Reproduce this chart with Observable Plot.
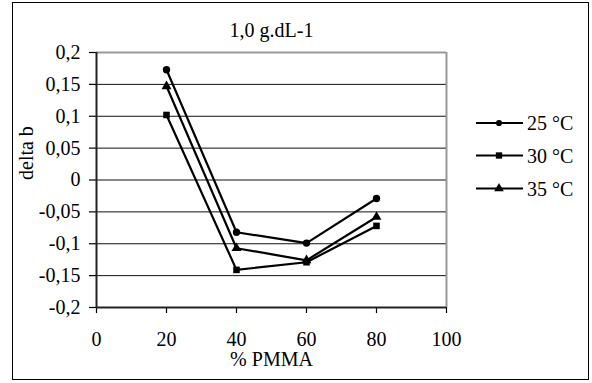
<!DOCTYPE html>
<html><head><meta charset="utf-8">
<script src="https://cdn.jsdelivr.net/npm/d3@7"></script>
<script src="https://cdn.jsdelivr.net/npm/@observablehq/plot@0.6"></script>
<style>
body{margin:0;background:#fff;}
#wrap{position:relative;width:592px;height:383px;}
#border{position:absolute;left:12px;top:2px;width:577px;height:378px;border:1.5px solid #000;box-sizing:border-box;pointer-events:none;}
svg text{font-family:'Liberation Serif','Times New Roman',serif !important;}
</style>
</head><body>
<div id="wrap"><div id="border"></div></div>
<script>
const pmma = [20, 40, 60, 80];
const series = ["25 °C", "30 °C", "35 °C"];
const v25 = [0.173, -0.082, -0.099, -0.029];
const v30 = [0.102, -0.141, -0.129, -0.072];
const v35 = [0.147, -0.107, -0.126, -0.058];
const yTicks = [-0.2, -0.15, -0.1, -0.05, 0, 0.05, 0.1, 0.15, 0.2];
const xTicks = [0, 20, 40, 60, 80, 100];
const title = "1,0 g.dL-1";
const yLabel = "delta b";
const xLabel = "% PMMA";
const symbols = ["circle", "square", "triangle"];

const vals = [v25, v30, v35];
const data = [];
series.forEach((s, i) => pmma.forEach((x, j) => data.push({s, x, y: vals[i][j]})));
const fmt = d => String(d).replace(".", ",");
const FONT = "'Liberation Serif', 'Times New Roman', serif";

const W = 592, H = 383, ml = 96, mr = 146, mt = 52, mb = 76;
const chart = Plot.plot({
  width: W, height: H,
  marginLeft: ml, marginRight: mr, marginTop: mt, marginBottom: mb,
  style: {fontFamily: FONT, fontSize: "20px", color: "#000", background: "transparent"},
  x: {domain: [0, 100], ticks: xTicks, tickFormat: fmt, label: null},
  y: {domain: [-0.2, 0.2], ticks: yTicks, tickFormat: fmt, label: null},
  symbol: {domain: series, range: symbols},
  marks: [
    Plot.ruleY(yTicks.filter(t => t > -0.2 && t < 0.2), {stroke: "#111", strokeWidth: 1}),
    Plot.ruleY([0.2], {stroke: "#999", strokeWidth: 2}),
    Plot.ruleX([100], {stroke: "#999", strokeWidth: 2}),
    Plot.axisY({ticks: yTicks, tickFormat: fmt, tickSize: 7, tickPadding: 9, fontSize: 20, label: null, strokeWidth: 1.2}),
    Plot.axisX({ticks: xTicks, tickFormat: fmt, tickSize: 6, tickPadding: 18, fontSize: 20, label: null, strokeWidth: 1.2}),
    Plot.ruleX([0], {stroke: "#222", strokeWidth: 2}),
    Plot.ruleY([-0.2], {stroke: "#222", strokeWidth: 2}),
    Plot.line(data, {x: "x", y: "y", z: "s", stroke: "#000", strokeWidth: 2.2}),
    Plot.dot(data, {x: "x", y: "y", symbol: "s", fill: "#000", stroke: "none", r: 3.7}),
    Plot.text([title], {frameAnchor: "top", lineAnchor: "middle", dy: -22, text: d => d, fontSize: 20}),
    Plot.text([yLabel], {frameAnchor: "left", lineAnchor: "middle", dx: -70, rotate: -90, text: d => d, fontSize: 20}),
    Plot.text([xLabel], {frameAnchor: "bottom", lineAnchor: "middle", dy: 52, text: d => d, fontSize: 20})
  ]
});
document.getElementById("wrap").prepend(chart);

// legend
const svg = d3.select(chart);
const g = svg.append("g").attr("font-family", FONT).attr("font-size", 20).attr("text-anchor", "start");
const legY = [123, 155.5, 188.5];
series.forEach((s, i) => {
  const y = legY[i];
  g.append("line").attr("x1", 476).attr("x2", 523).attr("y1", y).attr("y2", y).attr("stroke", "#000").attr("stroke-width", 2.2);
  const sym = d3.symbol().type(i === 0 ? d3.symbolCircle : i === 1 ? d3.symbolSquare : d3.symbolTriangle).size(i === 0 ? 30 : 40);
  g.append("path").attr("d", sym()).attr("transform", `translate(499,${y})`).attr("fill", "#000");
  g.append("text").attr("x", 527).attr("y", y).attr("dy", "0.35em").attr("text-anchor", "start").style("font-size", "20px").text(s);
});
</script>
</body></html>
